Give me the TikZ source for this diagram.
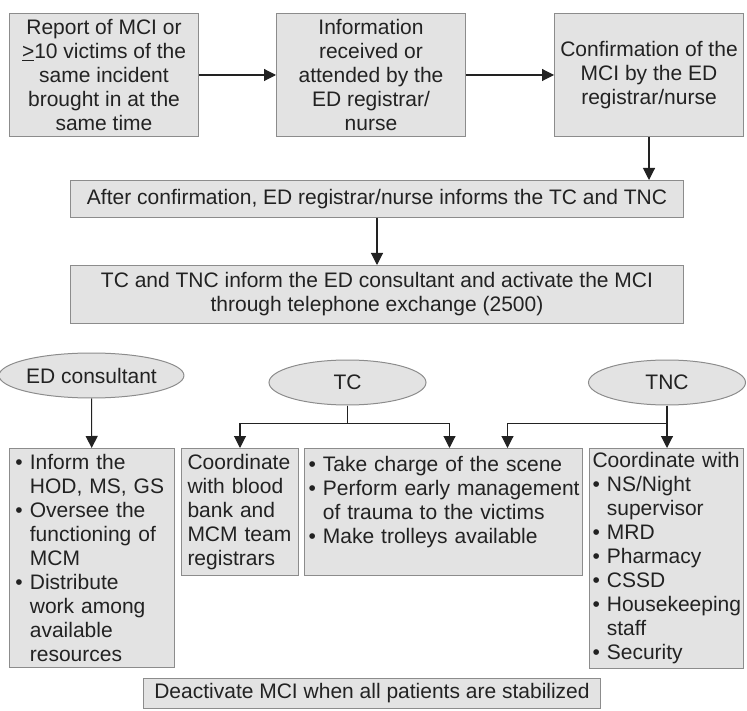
\documentclass[tikz,border=0pt]{standalone}
\usepackage{fontspec}
\setmainfont{Liberation Sans}
\usetikzlibrary{arrows.meta,positioning,shapes.geometric}
\definecolor{Ink}{HTML}{222222}
\definecolor{BoxFill}{HTML}{E3E3E3}
\definecolor{BoxLine}{HTML}{8C8C8C}
% list lines that never wrap
\newcommand{\bl}[1]{\mbox{\textbullet\ #1}}
\newcommand{\hg}[1]{\mbox{\phantom{\textbullet\ }#1}}
\newcommand{\lne}[1]{\mbox{#1}}
\tikzset{
  stepbox/.style={
    draw=BoxLine, line width=1pt, fill=BoxFill, text=Ink,
    align=center, inner sep=1pt, anchor=north west,
    font=\fontsize{21}{24}\selectfont
  },
  listbox/.style={stepbox, align=left, inner xsep=5pt},
  role/.style={
    ellipse, draw=BoxLine, line width=1pt, fill=BoxFill, text=Ink,
    minimum width=157pt, minimum height=45pt, inner sep=0pt,
    font=\fontsize{21}{24}\selectfont
  },
  flow/.style={-{Triangle[length=12pt,width=12pt]}, line width=1.1pt, draw=Ink}
}

\begin{document}
\begin{tikzpicture}[x=1pt,y=-1pt]
  \useasboundingbox (0,0) rectangle (747,711);
  % top row
  \node[stepbox,minimum width=189pt,minimum height=123pt] (report) at (9,13)
    {Report of MCI or\\ \underline{>}10 victims of the\\ same incident\\ brought in at the\\ same time};
  \node[stepbox,minimum width=189pt,minimum height=123pt] (info) at (276,13)
    {Information\\ received or\\ attended by the\\ ED registrar/\\ nurse};
  \node[stepbox,minimum width=189pt,minimum height=123pt] (confirm) at (554,13)
    {Confirmation of the\\ MCI by the ED\\ registrar/nurse};
  \node[stepbox,minimum width=613pt,minimum height=37pt] (after) at (70,180)
    {After confirmation, ED registrar/nurse informs the TC and TNC};
  \node[stepbox,minimum width=613pt,minimum height=58pt] (activate) at (70,265)
    {TC and TNC inform the ED consultant and activate the MCI\\ through telephone exchange (2500)};
  \draw[flow] (report) -- (info);
  \draw[flow] (info) -- (confirm);
  \draw[flow] (confirm.south) -- (confirm.south |- after.north);
  \draw[flow] (after) -- (activate);
  % roles
  \node[role] (edc) at (91.5,375.5) {ED consultant};
  \node[role] (tc) at (347.5,382.5) {TC};
  \node[role] (tnc) at (667,382.5) {TNC};
  % tasks
  \node[listbox,inner xsep=6pt,text width=153pt,minimum height=219pt] (edbox) at (9,448)
    {\bl{Inform the}\\ \hg{HOD, MS, GS}\\ \bl{Oversee the}\\ \hg{functioning of}\\ \hg{MCM}\\
     \bl{Distribute}\\ \hg{work among}\\ \hg{available}\\ \hg{resources}};
  \node[listbox,inner xsep=6pt,text width=105pt,minimum height=127pt] (blood) at (181,448)
    {\lne{Coordinate}\\ \lne{with blood}\\ \lne{bank and}\\ \lne{MCM team}\\ \lne{registrars}};
  \node[listbox,inner xsep=4pt,text width=270pt,minimum height=127pt] (scene) at (304,448)
    {\bl{Take charge of the scene}\\ \bl{Perform early management}\\ \hg{of trauma to the victims}\\
     \bl{Make trolleys available}\\ \mbox{}};
  \node[listbox,inner xsep=3pt,text width=148pt,minimum height=220pt] (tncbox) at (589,448)
    {\lne{Coordinate with}\\ \bl{NS/Night}\\ \hg{supervisor}\\ \bl{MRD}\\ \bl{Pharmacy}\\ \bl{CSSD}\\
     \bl{Housekeeping}\\ \hg{staff}\\ \bl{Security}};
  \node[stepbox,minimum width=457pt,minimum height=30pt] (deact) at (143,678)
    {Deactivate MCI when all patients are stabilized};
  \draw[flow] (edc) -- (edbox);
  \draw[flow] (tc.south) -- ++(0,18) -| (blood.north);
  \draw[flow] (tc.south) -- ++(0,18) -| ([xshift=6pt]scene.north);
  \draw[flow] (tnc.south) -- ++(0,18) -| ([xshift=64pt]scene.north);
  \draw[flow] (tnc.south) -- (tnc.south |- tncbox.north);
\end{tikzpicture}
\end{document}
